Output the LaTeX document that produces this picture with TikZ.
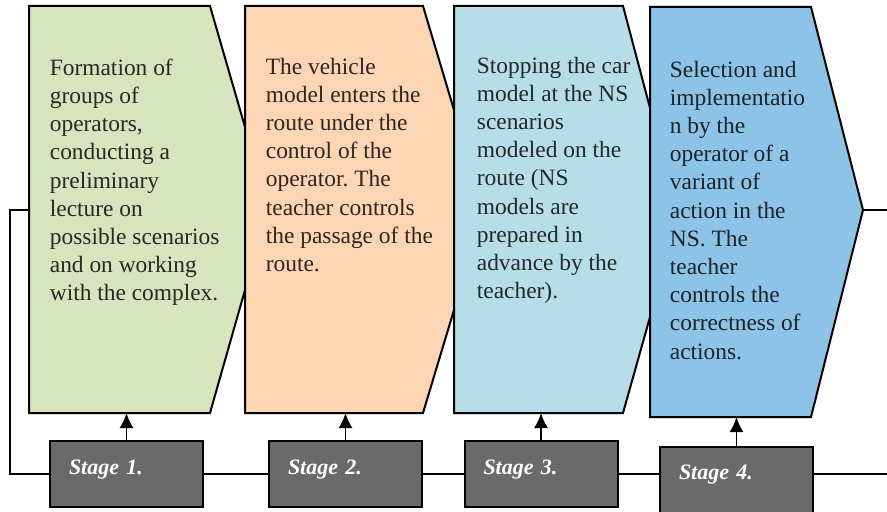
\documentclass[tikz,border=0pt]{standalone}
\usepackage{fontspec}
\setmainfont{Liberation Serif}
\frenchspacing
\usetikzlibrary{arrows.meta}
\definecolor{stgreen}{HTML}{D7E4BD}
\definecolor{storange}{HTML}{FCD5B5}
\definecolor{stcyan}{HTML}{B7DEE8}
\definecolor{stblue}{HTML}{8EC3E8}
\definecolor{stgray}{HTML}{6A6A6A}
\tikzset{
  stagebox/.style={draw=black, line width=1pt, fill=stgray, text=white,
    font=\fontsize{11}{12}\selectfont\bfseries\itshape,
    text width=57.5pt, align=left, inner xsep=9.5pt, inner ysep=0pt,
    text height=16.5pt, text depth=16.5pt},
  stepbody/.style={draw=black, line width=1pt},
  steptext/.style={anchor=north west, inner sep=0pt, align=left,
    font=\fontsize{11.7}{14.1}\selectfont},
}
\begin{document}
\begin{tikzpicture}[x=0.5pt, y=-0.5pt, >={Latex[length=7.5pt,width=7pt]}, line width=0.9pt]
			\useasboundingbox (0,0) rectangle (887,512);
			\filldraw [stepbody, fill=stgreen] (29,6)--(210,6)--(245,127)--(245,290)--(210,413)--(29,413)--cycle;
			\filldraw [stepbody, fill=storange] (245,6)--(423,6)--(454,110)--(454,310)--(423,413)--(245,413)--cycle;
			\filldraw [stepbody, fill=stcyan] (454,6)--(623,6)--(650,108)--(650,317)--(623,413)--(454,413)--cycle;
			\filldraw [stepbody, fill=stblue] (650,7)--(811,7)--(863,210)--(811,417)--(650,417)--cycle;
			\node [steptext, text=stgreen!18!black] (t1) at (49,58) {Formation of\\groups of\\operators,\\conducting a\\preliminary\\lecture on\\possible scenarios\\and on working\\with the complex.};
			\node [steptext, text=storange!18!black] (t2) at (265,57) {The vehicle\\model enters the\\route under the\\control of the\\operator. The\\teacher controls\\the passage of the\\route.};
			\node [steptext, text=stcyan!18!black] (t3) at (476,56) {Stopping the car\\model at the NS\\scenarios\\modeled on the\\route (NS\\models are\\prepared in\\advance by the\\teacher).};
			\node [steptext, text=stblue!18!black] (t4) at (669,60) {Selection and\\implementatio\\n by the\\operator of a\\variant of\\action in the\\NS. The\\teacher\\controls the\\correctness of\\actions.};
			\node [stagebox] (s1) at (126.5,474) {Stage 1.};
			\node [stagebox] (s2) at (345.5,474) {Stage 2.};
			\node [stagebox] (s3) at (541,474) {Stage 3.};
			\node [stagebox] (s4) at (736.5,479.5) {Stage 4.};
			\coordinate (b1) at (126.5,413);
			\coordinate (b2) at (345.5,413);
			\coordinate (b3) at (541,413);
			\coordinate (b4) at (736.5,417);
			\coordinate (in1) at (29,210);
			\coordinate (lc) at (10,474);
			\coordinate (rc) at (887,474);
			\coordinate (tip4) at (863,210);
			\coordinate (out4) at (887,210);
			\draw [->] (s1) -- (b1);
			\draw [->] (s2) -- (b2);
			\draw [->] (s3) -- (b3);
			\draw [->] (s4) -- (b4);
			\draw (in1) -| (lc) -- (s1);
			\draw (s1) -- (s2);
			\draw (s2) -- (s3);
			\draw (s3.east) -- (s3.east -| s4.west);
			\draw (s4.east |- rc) -- (rc);
			\draw (tip4) -- (out4);
		\end{tikzpicture}
\end{document}
